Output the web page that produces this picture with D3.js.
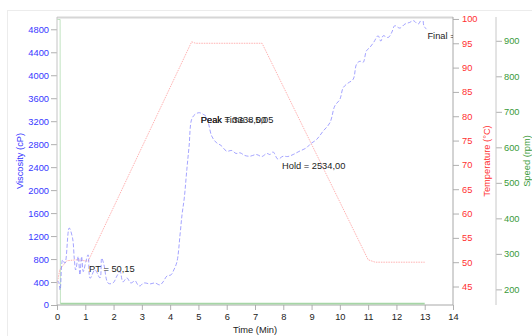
<!DOCTYPE html>
<html><head><meta charset="utf-8">
<script src="https://cdn.jsdelivr.net/npm/d3@7"></script>
<style>body{margin:0;background:#fff}svg{display:block}text{font-family:"Liberation Sans",Arial,sans-serif}</style>
</head><body><svg id="c" width="532" height="336"></svg>
<script>
// Viscosity (cP) vs time (min)
const viscTime = [0,0.05,0.11,0.2,0.28,0.43,0.55,0.61,0.66,0.75,0.81,0.87,0.93,1.02,1.1,1.17,1.34,1.52,1.58,1.66,1.81,1.98,2.12,2.23,2.33,2.47,2.61,2.76,2.86,2.93,3.07,3.29,3.46,3.64,3.75,3.89,4.03,4.13,4.24,4.35,4.42,4.5,4.59,4.67,4.76,4.88,5.03,5.17,5.27,5.35,5.47,5.64,5.8,6.0,6.18,6.33,6.47,6.64,6.82,7.05,7.24,7.42,7.53,7.64,7.81,7.99,8.16,8.35,8.55,8.82,8.98,9.18,9.4,9.65,9.82,10.0,10.12,10.28,10.47,10.59,10.71,10.82,10.94,11.06,11.2,11.35,11.45,11.53,11.71,11.84,11.94,12.12,12.3,12.47,12.6,12.77,12.92,12.97,13.06];
const viscValue = [400,407,262,786,728,1340,1165,816,611,844,524,844,582,756,873,466,611,472,816,700,379,384,506,582,402,472,384,420,350,332,384,367,384,350,402,506,524,611,751,1223,1572,1864,2358,2765,3231,3319,3348,3319,3284,3174,2940,2824,2777,2678,2690,2638,2650,2603,2590,2620,2585,2638,2620,2664,2540,2590,2585,2620,2672,2737,2812,2882,3022,3174,3464,3580,3785,3860,3930,4192,4244,4222,4425,4484,4576,4687,4594,4687,4658,4751,4862,4821,4891,4920,4950,4891,5008,4862,4803];
// Temperature (°C)
const tempTime = [0,0.1,0.35,0.7,1.1,4.76,4.9,7.25,11.0,11.25,13.0];
const tempValue = [45.5,48.5,50.3,50.5,50.2,95.3,95,95,50.5,50,50];
// Speed (rpm)
const speedTime = [0,0.11,0.12,13.0];
const speedValue = [960,960,160,160];
// Ticks
const timeTicks = [0,1,2,3,4,5,6,7,8,9,10,11,12,13,14];
const viscTicks = [0,400,800,1200,1600,2000,2400,2800,3200,3600,4000,4400,4800];
const tempTicks = [45,50,55,60,65,70,75,80,85,90,95,100];
const speedTicks = [200,300,400,500,600,700,800,900];
// Annotations
const annText = ["PT = 50,15","Peak = 3338,00","Peak Time = 5,05","Hold = 2534,00","Final ="];
const annTime = [1.1,5.05,5.05,7.92,13.06];
const annVisc = [751,3338,3338,2534,4803];

const svg = d3.select("#c");
const L=57,R=453,T=17,B=305;
const x = d3.scaleLinear([0,14],[L,R]);
const yV = d3.scaleLinear([0,5014],[B,T]);
const yT = d3.scaleLinear([41.2,100.4],[B,T]);
const yS = d3.scaleLinear([156,967],[B,T]);

// outer frame
svg.append("rect").attr("x",7.5).attr("y",10.5).attr("width",560).attr("height",360).attr("fill","none").attr("stroke","#ececec");
// plot top border
svg.append("line").attr("x1",L).attr("x2",R).attr("y1",T+0.5).attr("y2",T+0.5).attr("stroke","#d6d6d6").attr("stroke-width",2);

function styleAxis(g,col){
  g.selectAll("line").attr("stroke","#b0b0b0");
  g.selectAll("text").attr("fill",col).style("font-size","9.3px").attr("font-family","Liberation Sans, Arial, sans-serif");
}
function minor(lo,hi,step){const a=[];for(let v=lo;v<=hi+1e-9;v+=step)a.push(+v.toFixed(4));return a;}

// viscosity axis
const gv = svg.append("g").attr("transform",`translate(${L},0)`);
gv.call(d3.axisLeft(yV).tickValues(minor(0,5000,80)).tickSize(3).tickFormat(""));
gv.call(d3.axisLeft(yV).tickValues(viscTicks).tickSize(6).tickPadding(2).tickFormat(d3.format("d")));
styleAxis(gv,"#3838ff");
gv.selectAll("path").remove();
gv.append("line").attr("y1",T).attr("y2",B).attr("stroke","#c4c4c4");

// temperature axis
const gt = svg.append("g").attr("transform",`translate(${R},0)`);
gt.call(d3.axisRight(yT).tickValues(minor(42,100,1)).tickSize(3).tickFormat(""));
gt.call(d3.axisRight(yT).tickValues(tempTicks).tickSize(6).tickPadding(3).tickFormat(d3.format("d")));
styleAxis(gt,"#ff3030");
gt.selectAll("path").remove();
gt.append("line").attr("y1",T).attr("y2",B).attr("stroke","#a8a8a8");

// speed axis
const gs = svg.append("g").attr("transform",`translate(496,0)`);
gs.call(d3.axisRight(yS).tickValues(minor(160,960,20)).tickSize(3).tickFormat(""));
gs.call(d3.axisRight(yS).tickValues(speedTicks).tickSize(6).tickPadding(2).tickFormat(d3.format("d")));
styleAxis(gs,"#3a9a3a");
gs.selectAll("path").remove();
gs.append("line").attr("y1",T).attr("y2",B).attr("stroke","#c8c8c8");

// time axis
const gx = svg.append("g").attr("transform",`translate(0,${B})`);
gx.call(d3.axisBottom(x).tickValues(timeTicks).tickSize(5).tickPadding(3).tickFormat(d3.format("d")));
styleAxis(gx,"#222");
gx.selectAll("path").remove();
gx.append("line").attr("x1",L).attr("x2",R).attr("stroke","#a8a8a8");

// titles
function title(tr,col,s){svg.append("text").attr("transform",tr).attr("text-anchor","middle").attr("dominant-baseline","central").attr("fill",col).style("font-size","9.3px").text(s);}
title("translate(20,161) rotate(-90)","#3838ff","Viscosity (cP)");
title("translate(487,161) rotate(-90)","#ff3030","Temperature (°C)");
title("translate(527,161) rotate(-90)","#3a9a3a","Speed (rpm)");
title(`translate(${(L+R)/2},330)`,"#222","Time  (Min)");

svg.append("clipPath").attr("id","pc").append("rect").attr("x",L+0.5).attr("y",T+2).attr("width",R-L-0.5).attr("height",B-T-1);
const plot = svg.append("g").attr("clip-path","url(#pc)");

// speed: initial high-speed mixing (thin, faint) then constant speed (thick)
const sd = speedTime.map((t,i)=>[t,speedValue[i]]);
const sLine = d3.line().x(d=>x(d[0])).y(d=>yS(d[1]));
plot.append("path").attr("d",sLine(sd.slice(0,3))).attr("fill","none").attr("stroke","#7cc47c").attr("stroke-width",0.8).attr("opacity",0.6);
plot.append("path").attr("d",sLine(sd.slice(2))).attr("fill","none").attr("stroke","#a6d6a6").attr("stroke-width",1.8);

// temperature
const td = tempTime.map((t,i)=>[t,tempValue[i]]);
plot.append("path").attr("d",d3.line().x(d=>x(d[0])).y(d=>yT(d[1]))(td)).attr("fill","none").attr("stroke","#ff9090").attr("stroke-width",0.7).attr("stroke-dasharray","1.5,1");

// viscosity
const vd = viscTime.map((t,i)=>[t,viscValue[i]]);
plot.append("path").attr("d",d3.line().curve(d3.curveCatmullRom).x(d=>x(d[0])).y(d=>yV(d[1]))(vd)).attr("fill","none").attr("stroke","#7c7cff").attr("stroke-width",0.7).attr("stroke-dasharray","4,2");

// annotations (Peak and Peak Time share one anchor and overlap, as in the original)
const annClip = svg.append("g").attr("clip-path","url(#pc2)");
svg.append("clipPath").attr("id","pc2").append("rect").attr("x",L).attr("y",T).attr("width",R-L).attr("height",B-T);
annText.forEach((s,i)=>{
  annClip.append("text").attr("x",x(annTime[i])+1).attr("y",yV(annVisc[i])+10).attr("fill","#222").style("font-size","9.3px").text(s);
});
</script></body></html>
